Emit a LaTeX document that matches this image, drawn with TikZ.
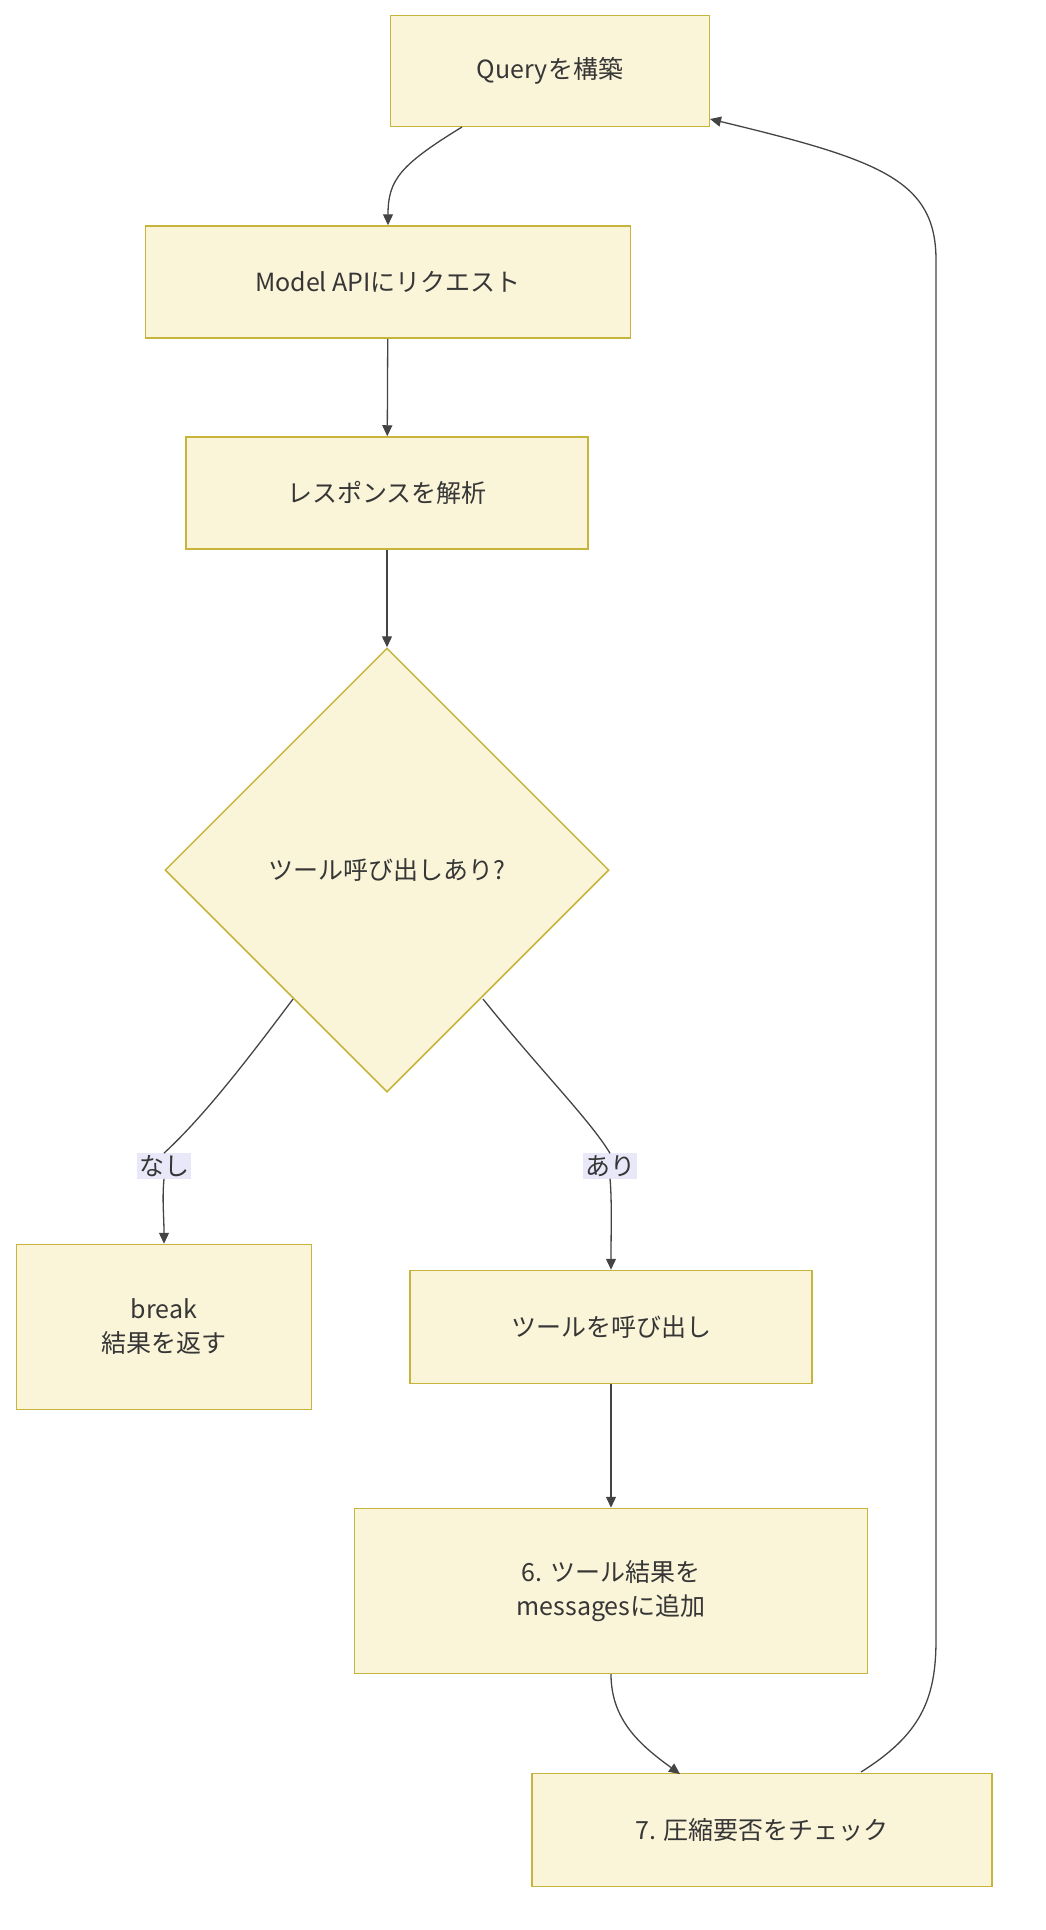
\documentclass[tikz,border=0pt]{standalone}
\usepackage{fontspec}
\setmainfont{Noto Sans CJK JP}
\usetikzlibrary{shapes.geometric,arrows.meta}
\definecolor{bfill}{HTML}{FAF5D8}
\definecolor{bdraw}{HTML}{C6B43C}
\definecolor{ln}{HTML}{444444}
\definecolor{lbl}{HTML}{E8E8F8}
\begin{document}
\begin{tikzpicture}[x=1pt,y=-1pt,
  box/.style={draw=bdraw,fill=bfill,line width=1.5pt,font=\fontsize{25}{34}\selectfont,text=ln!80!black,align=center,inner sep=0pt},
  dia/.style={box,diamond,shape aspect=1},
  lab/.style={fill=lbl,font=\fontsize{25}{30}\selectfont,text=ln!80!black,inner sep=2pt},
  ar/.style={draw=ln,line width=1.3pt,-{Triangle[length=11pt,width=10pt]}}]
\useasboundingbox (0,0) rectangle (1046,1930);
\node[box,minimum width=319pt,minimum height=111pt] (q) at (550,71) {Queryを構築};
\node[box,minimum width=485pt,minimum height=112pt] (m) at (388,282) {Model APIにリクエスト};
\node[box,minimum width=402pt,minimum height=112pt] (r) at (387,493) {レスポンスを解析};
\node[box,diamond,minimum width=444pt,minimum height=444pt] (d) at (387,870) {ツール呼び出しあり?};
\node[box,minimum width=295pt,minimum height=165pt] (b) at (164,1327) {break\\結果を返す};
\node[box,minimum width=402pt,minimum height=113pt] (t) at (611,1327) {ツールを呼び出し};
\node[box,minimum width=513pt,minimum height=165pt] (s) at (611,1591) {6. ツール結果を\\messagesに追加};
\node[box,minimum width=460pt,minimum height=113pt] (c) at (762,1830) {7. 圧縮要否をチェック};
\node[lab] (l1) at (164,1166) {なし};
\node[lab] (l2) at (610,1166) {あり};
\coordinate (qs) at (462,127);
\coordinate (ds1) at (293,999);
\coordinate (ds2) at (483,999);
\coordinate (cs) at (680,1774);
\coordinate (ss) at (611,1674);
\coordinate (ct) at (861,1772);
\coordinate (qe) at (710,119);
\draw[ar] (qs) .. controls (400,165) and (388,180) .. (m.north);
\draw[ar] (m) -- (r);
\draw[ar] (r) -- (d.north);
\draw[draw=ln,line width=1.3pt] (ds1) .. controls (240,1070) and (200,1120) .. (l1.north);
\draw[ar] (l1.south) .. controls (162,1200) and (164,1215) .. (b.north);
\draw[draw=ln,line width=1.3pt] (ds2) .. controls (540,1070) and (590,1120) .. (l2.north);
\draw[ar] (l2.south) .. controls (612,1200) and (611,1230) .. (t.north);
\draw[ar] (t) -- (s);
\draw[ar] (ss) .. controls (611,1720) and (640,1745) .. (cs);
\draw[ar] (ct) .. controls (920,1735) and (936,1700) .. (936,1640) -- (936,260) .. controls (936,180) and (880,160) .. (qe);
\end{tikzpicture}
\end{document}
